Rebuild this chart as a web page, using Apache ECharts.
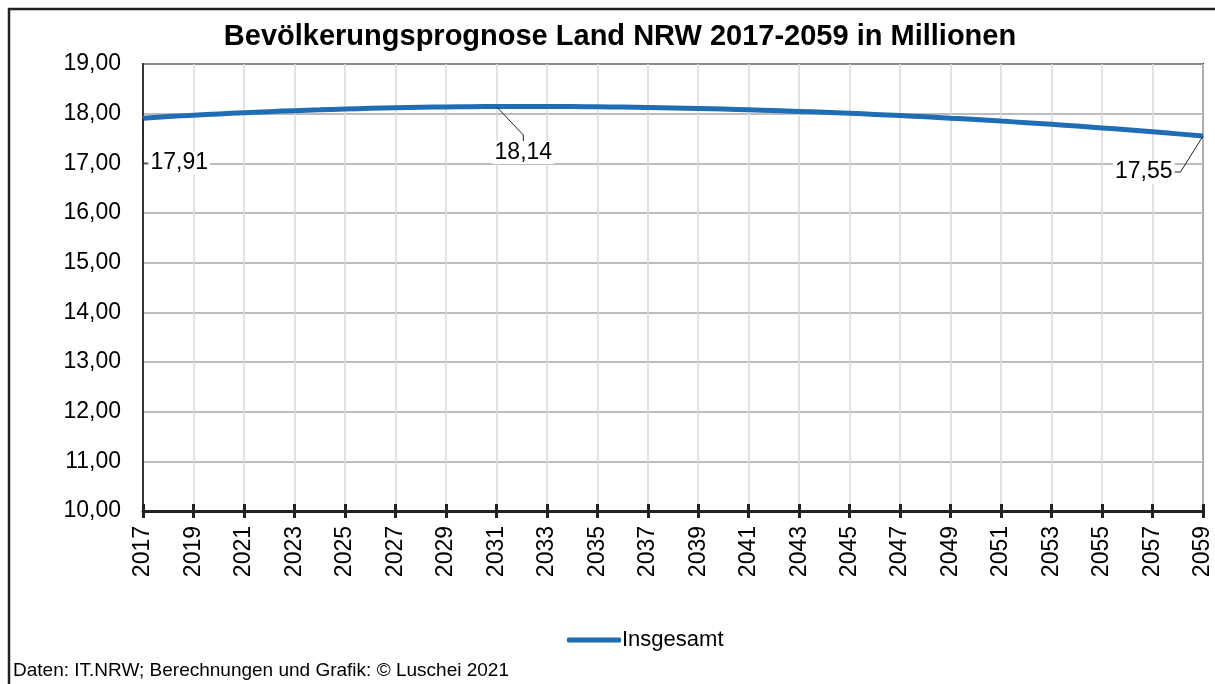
<!DOCTYPE html>
<html>
<head>
<meta charset="utf-8">
<script src="https://cdn.jsdelivr.net/npm/echarts@6/dist/echarts.min.js"></script>
<style>
  html, body { margin: 0; padding: 0; background: #fff; }
  #chart { width: 1215px; height: 684px; }
</style>
</head>
<body>
<div id="chart"></div>
<script>
// Jahre 2017..2059
const years = []
for (let y = 2017; y <= 2059; y++) years.push(String(y))

// Bevölkerung in Millionen
const insgesamt = [
  17.910, 17.941, 17.969, 17.995, 18.019, 18.041, 18.061, 18.078, 18.094, 18.108,
  18.119, 18.128, 18.136, 18.141, 18.144, 18.145, 18.144, 18.142, 18.138, 18.132,
  18.125, 18.116, 18.105, 18.093, 18.079, 18.063, 18.046, 18.027, 18.007, 17.985,
  17.961, 17.936, 17.909, 17.881, 17.850, 17.819, 17.785, 17.750, 17.713, 17.675,
  17.635, 17.593, 17.550
]

// Punkte mit Beschriftung
const labelled = { 0: 'right', 14: 'bottom', 42: 'left' }

const fmt = v => Number(v).toFixed(2).replace('.', ',')
const font = '"Liberation Sans", Arial, sans-serif'

let chart = echarts.init(document.getElementById('chart'))

chart.setOption({
  animation: false,
  textStyle: { fontFamily: font },
  title: [
    {
      text: 'Bevölkerungsprognose Land NRW 2017-2059 in Millionen',
      left: 615,
      textAlign: 'center',
      top: 17,
      textStyle: { fontSize: 29, fontWeight: 'bold', color: '#000', fontFamily: font }
    },
    {
      text: 'Daten: IT.NRW; Berechnungen und Grafik: © Luschei 2021',
      left: 8,
      top: 656,
      textStyle: { fontSize: 19, fontWeight: 'normal', color: '#000', fontFamily: font }
    }
  ],
  graphic: [
    {
      type: 'rect',
      shape: { x: 9, y: 9, width: 1400, height: 900 },
      style: { fill: 'none', stroke: '#222', lineWidth: 2.5 },
      silent: true
    }
  ],
  legend: {
    data: ['Insgesamt'],
    left: 562,
    top: 624,
    icon: 'roundRect',
    itemWidth: 54,
    itemHeight: 5,
    textStyle: { fontSize: 22, color: '#000', fontFamily: font, padding: [0, 0, 0, -4] }
  },
  grid: {
    left: 143,
    right: 12,
    top: 64,
    bottom: 173,
    show: true,
    borderColor: '#333',
    borderWidth: 2,
    backgroundColor: '#fff'
  },
  xAxis: [
    {
      type: 'category',
      data: years,
      boundaryGap: false,
      axisLine: { lineStyle: { color: '#222', width: 3 } },
      axisTick: { interval: 1, length: 7, lineStyle: { color: '#222', width: 3 } },
      axisLabel: {
        interval: 1,
        rotate: 90,
        margin: 15,
        fontSize: 23,
        color: '#000',
        fontFamily: font
      },
      splitLine: { show: true, interval: 1, lineStyle: { color: '#d9d9d9', width: 1.5 } }
    },
    {
      type: 'category',
      data: years,
      boundaryGap: false,
      position: 'bottom',
      axisLine: { show: false },
      axisTick: { inside: true, interval: 1, length: 7, lineStyle: { color: '#222', width: 3 } },
      axisLabel: { show: false },
      splitLine: { show: false }
    }
  ],
  yAxis: {
    type: 'value',
    min: 10,
    max: 19,
    interval: 1,
    axisLine: { show: true, lineStyle: { color: '#333', width: 2 } },
    axisTick: { show: false },
    axisLabel: {
      margin: 22,
      fontSize: 23,
      color: '#000',
      fontFamily: font,
      formatter: fmt
    },
    splitLine: { lineStyle: { color: '#a6a6a6', width: 1.5 } }
  },
  series: [
    {
      name: 'Insgesamt',
      type: 'line',
      smooth: true,
      symbol: 'circle',
      symbolSize: 1,
      showSymbol: true,
      itemStyle: { color: '#1f6eb5' },
      lineStyle: { color: '#1f6eb5', width: 5 },
      data: insgesamt.map((v, i) => {
        if (labelled[i] === undefined) return v
        return {
          value: v,
          label: {
            show: true,
            position: labelled[i],
            distance: labelled[i] === 'left' ? 28 : (labelled[i] === 'right' ? 5 : 0),
            formatter: p => fmt(p.value),
            fontSize: 23,
            color: '#000',
            fontFamily: font,
            backgroundColor: '#fff',
            padding: [0, 2]
          }
        }
      }),
      labelLine: {
        show: true,
        length2: 6,
        lineStyle: { color: '#222', width: 1 }
      },
      labelLayout: p => {
        if (p.dataIndex === 0) return { dy: 45 }
        if (p.dataIndex === 14) return { dx: 27, dy: 34 }
        if (p.dataIndex === 42) return { dy: 36 }
        return {}
      }
    }
  ]
})
</script>
</body>
</html>
